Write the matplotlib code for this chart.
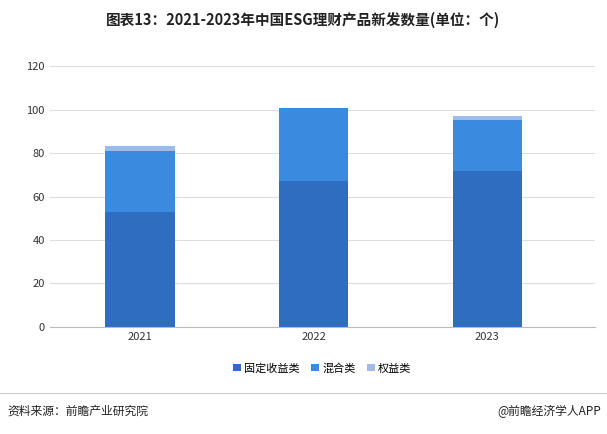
import matplotlib
matplotlib.use("Agg")
import matplotlib.pyplot as plt
import numpy as np

plt.rcParams['font.family'] = ['Noto Sans CJK SC', 'DejaVu Sans']

years = ["2021", "2022", "2023"]
fixed = [53, 67, 72]
mixed = [28, 34, 23.5]
equity = [2.5, 0, 1.5]

fig = plt.figure(figsize=(6.07, 4.34), dpi=100)
ax = fig.add_axes([0.082, 0.247, 0.898, 0.6])
x = np.arange(len(years))
w = 0.40
c1, c2, c3 = "#2f6dc0", "#3a8ae0", "#9ebbe9"
ax.bar(x, fixed, w, color=c1, label="固定收益类")
ax.bar(x, mixed, w, bottom=fixed, color=c2, label="混合类")
ax.bar(x, equity, w, bottom=np.add(fixed, mixed), color=c3, label="权益类")
ax.set_ylim(0, 120)
ax.set_yticks(range(0, 121, 20))
ax.set_xlim(-0.52, 2.62)
ax.set_xticks(x)
ax.set_xticklabels(years)
ax.tick_params(labelsize=8, colors="#333333", length=0)
ax.grid(axis="y", color="#dddddd", linewidth=0.8)
ax.set_axisbelow(True)
for s in ["top", "right", "left"]:
    ax.spines[s].set_visible(False)
ax.spines["bottom"].set_color("#bbbbbb")
ax.legend(loc="upper center", bbox_to_anchor=(0.5, -0.1), ncol=3, frameon=False,
          fontsize=8, handlelength=0.7, handleheight=0.7, columnspacing=1.0, handletextpad=0.3)
fig.text(0.5, 0.955, "图表13：2021-2023年中国ESG理财产品新发数量(单位：个)", ha="center",
         va="center", fontsize=10.5, fontweight="bold", color="#222222")
fig.text(0.012, 0.052, "资料来源：前瞻产业研究院", fontsize=8.5, va="center", color="#222222")
fig.text(0.99, 0.052, "@前瞻经济学人APP", fontsize=8.5, va="center", ha="right", color="#222222")
fig.add_artist(plt.Line2D([0.0, 1.0], [0.095, 0.095], color="#cccccc", linewidth=0.8))
fig.savefig("out.png", dpi=100)
